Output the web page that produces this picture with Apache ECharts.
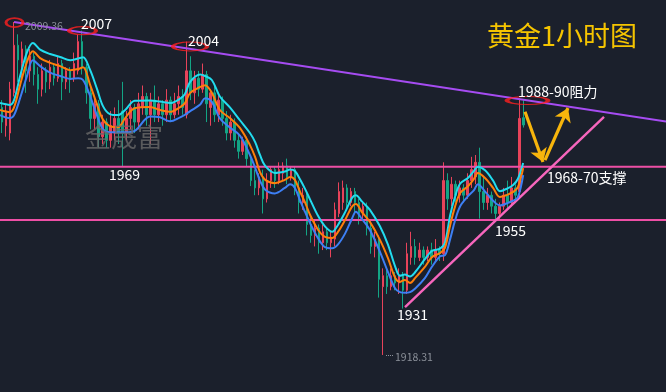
<!DOCTYPE html>
<html><head><meta charset="utf-8">
<script src="https://cdn.jsdelivr.net/npm/echarts@6/dist/echarts.min.js"></script>
<style>html,body{margin:0;padding:0;background:#1b202c}#c{width:666px;height:392px}</style>
</head><body><div id="c"></div>
<script>
// OHLC candles: [open, close, low, high]
const candles = [
[1986,1982,1979,1988],[1981,1985,1978,1987],[1979,1991,1977,1993],[1990,2003,1989,2009.36],
[2003,1999,1993,2006],[1998,2002,1994,2004],[2002,1996,1990,2003],[1996,2000,1993,2002],
[2000,1995,1992,2001],[1995,1991,1987,1997],[1991,1996,1989,1998],[1996,1993,1990,1997],
[1993,1997,1991,1999],[1997,1994,1992,1998],[1994,1998,1993,2000],[1998,1993,1988,1999],
[1993,1996,1991,1997],[1996,1994,1990,1997],[1994,1998,1993,2001],[1996,2004,1995,2006],
[2004,1997,1995,2007],[1997,1990,1987,1998],[1990,1983,1980,1992],[1983,1987,1980,1989],
[1987,1978,1975,1988],[1978,1982,1976,1984],[1982,1977,1975,1983],[1977,1981,1975,1985],
[1979,1983,1977,1986],[1983,1979,1976,1988],[1985,1979,1969.8,1993],[1979,1983,1977,1985],
[1983,1986,1980,1988],[1986,1982,1979,1987],[1982,1987,1980,1990],[1986,1989,1984,1992],
[1989,1984,1981,1990],[1984,1988,1976,1990],[1988,1984,1982,1992],[1984,1987,1982,1989],
[1987,1984,1981,1988],[1984,1988,1982,1991],[1988,1984,1982,1989],[1984,1987,1983,1990],
[1987,1989,1984,1992],[1989,1986,1984,1991],[1984,1996,1983,2004],[1996,1990,1988,2000],
[1990,1994,1987,1996],[1994,1991,1989,1996],[1991,1995,1990,1998],[1995,1987,1982,1996],
[1986,1990,1981,1991],[1990,1984,1982,1992],[1984,1988,1982,1990],[1988,1983,1981,1989],
[1983,1979,1977,1985],[1979,1982,1977,1984],[1982,1977,1975,1983],[1977,1974,1972,1979],
[1974,1977,1973,1978],[1977,1972,1970,1978],[1972,1966,1964.5,1973],[1966,1964,1962,1969],
[1964,1967,1962,1968],[1967,1961,1957,1969],[1961,1966,1960,1968],[1966,1969,1964,1970],
[1969,1966,1964,1970],[1966,1969,1965,1971],[1968,1970,1966,1971],[1970,1967,1965,1972],
[1967,1969,1966,1970],[1969,1964,1962,1970],[1964,1960,1957,1966],[1960,1962,1958,1964],
[1962,1954,1951,1963],[1954,1951,1949,1956],[1951,1953,1948,1955],[1953,1949,1946,1954],
[1949,1952,1947,1954],[1952,1949,1947,1953],[1949,1950.5,1945,1952],[1950,1958,1948,1960],
[1957,1963,1956,1965.5],[1960,1964,1958,1966],[1964,1960,1958,1965],[1960,1963,1959,1964],
[1963,1960,1957,1964],[1960,1957,1954,1961],[1957,1959,1955,1960],[1959,1953,1951,1960],
[1953,1948,1946,1955],[1948,1950,1945,1952],[1950,1939,1934,1951],[1937,1940,1918.31,1942],
[1940,1937,1935,1942],[1937,1940,1936,1942],[1940,1938,1936,1941],[1938,1940,1935,1942],
[1940,1936,1931,1941],[1936,1946,1935,1949],[1945,1948,1943,1952],[1948,1945,1943,1950],
[1945,1947,1944,1949],[1947,1945,1943,1948],[1945,1947,1944,1948],[1947,1945,1943,1949],
[1945,1947,1944,1950],[1947,1946,1944,1948],[1946,1966,1944,1971],[1966,1961,1958,1968],
[1961,1965,1959,1967],[1965,1962,1960,1966],[1962,1964,1960,1966],[1964,1962,1960,1965],
[1962,1966,1961,1968],[1966,1969,1964,1972.5],[1967,1971,1965,1973],[1971,1963,1955.6,1975],
[1963,1960,1958,1967],[1960,1962,1958,1964],[1962,1959,1957,1963],[1959,1957,1955,1961],
[1957,1959,1955.5,1960],[1959,1962,1958,1964],[1962,1960,1958,1966],[1960,1964,1959,1967],
[1964,1962,1960,1965],[1963,1983,1961,1988.5],[1983.2,1981.2,1980.5,1988]
];
const slotCount = 166;

// moving-average curves (bar index, price)
const maX = [-0.5,2.0,3.0,4.5,6.2,7.7,9.5,12,14.5,17,19,20.2,21.9,23.7,25.2,26.9,28.9,30.7,33.1,36.9,39.4,41.9,44.4,45.6,46.9,49.4,50.6,52.3,54.3,56.8,59.3,61.8,63.1,64.3,65.6,68.0,70.5,71.8,73.0,74.3,75.5,76.8,78.8,80.5,82.3,83.7,85.5,87.2,88.2,89.7,91.7,94.2,96.2,98.0,99.2,100.4,101.7,103.0,105.4,107.2,109.2,110.4,111.7,112.9,114.2,116.2,117.6,118.6,120.4,122.4,124.1,125.9,127.4,128.6,129.9];
const maClose = [1985.3,1984.7,1986.0,1992.1,1998.4,2001.4,1999.5,1998.2,1997.3,1996.2,1996.5,1997.0,1992.4,1986.7,1982.6,1980.9,1980.6,1983.1,1985.8,1986.1,1985.3,1984.8,1986.1,1987.2,1990.0,1991.6,1992.1,1990.0,1985.3,1983.1,1980.4,1975.7,1972.4,1968.3,1966.2,1965.3,1966.2,1967.0,1966.2,1962.9,1960.1,1956.6,1952.5,1950.6,1950.3,1951.9,1955.2,1958.8,1959.6,1957.4,1954.7,1949.8,1944.8,1939.4,1938.3,1938.8,1938.0,1939.4,1942.4,1945.1,1946.2,1947.6,1953.8,1958.8,1962.6,1964.5,1966.4,1968.1,1966.7,1964.0,1961.5,1962.1,1962.9,1964.2,1969.4];
const maHigh = [1987.2,1986.7,1988.0,1994.5,2001.0,2003.6,2001.8,2000.6,1999.8,1998.9,1999.4,1999.7,1996.4,1991.0,1986.3,1984.2,1983.9,1985.3,1987.8,1987.9,1987.6,1987.2,1988.4,1989.7,1993.0,1995.0,1994.6,1993.5,1989.0,1986.0,1982.5,1979.0,1976.5,1973.0,1970.0,1968.1,1968.5,1969.0,1968.6,1966.3,1963.8,1960.8,1956.3,1953.5,1952.0,1953.8,1957.3,1961.2,1962.0,1960.3,1958.0,1953.5,1948.5,1942.5,1940.0,1940.3,1939.8,1941.0,1944.5,1946.8,1947.4,1949.0,1956.5,1961.5,1965.2,1966.8,1968.6,1969.8,1968.8,1966.0,1963.1,1963.8,1964.8,1966.5,1970.8];
const maLow = [1983.9,1983.1,1983.9,1988.5,1994.5,1998.9,1997.3,1995.5,1994.6,1993.8,1994.0,1993.5,1989.3,1983.7,1980.0,1979.2,1979.2,1979.2,1979.6,1983.5,1983.3,1982.2,1983.3,1984.0,1985.0,1986.8,1988.5,1987.5,1983.0,1980.5,1978.3,1973.0,1969.5,1966.0,1963.5,1962.5,1964.0,1965.0,1964.0,1960.5,1957.5,1954.3,1950.2,1947.8,1947.5,1948.5,1951.5,1955.5,1957.5,1955.5,1952.5,1946.5,1941.0,1936.5,1935.5,1935.3,1935.5,1936.5,1939.3,1942.5,1945.3,1945.6,1950.0,1955.0,1959.0,1961.8,1963.3,1965.0,1963.0,1960.5,1959.2,1959.8,1960.5,1961.5,1967.5];

// annotations (bar index, price)
const resistanceLine = [[3.0,2009.36],[165.5,1982.15]];
const supportLevels = [1969.8,1955.2];
const trendLine = [[100.45,1931.4],[150.05,1983.4]];
const circleMarks = [[3.11,2009.2,17,9],[20.06,2007.0,27,8],[46.86,2002.66,34,9],[130.98,1987.9,41,8]];
const arrowPaths = [[[130.36,1984.8],[134.84,1971.1]],[[135.34,1971.6],[141.07,1985.85]]];
const priceMin = 1908.19, priceMax = 2015.38;

const zip = (xs, ys) => xs.map((x, i) => [x, ys[i]]);
const chart = echarts.init(document.getElementById('c'), null, {renderer: 'canvas'});
const FONT = "'Noto Sans CJK SC','Noto Sans',sans-serif";
const txt = (text, x, cy, size, fill) => ({type:'text', x, y: cy, z: 100,
  style:{text, fill, font: size + 'px ' + FONT, verticalAlign:'middle'}});

const series = [
  {type:'candlestick', xAxisIndex:0, yAxisIndex:0, data:candles, barWidth:2,
   itemStyle:{color:'#e8435a', color0:'#13a585', borderColor:'#e8435a', borderColor0:'#13a585', borderWidth:1}, z:2},
];
supportLevels.forEach(p => series.push({type:'line', xAxisIndex:1, data:[[-0.5,p],[165.5,p]], showSymbol:false,
  lineStyle:{color:'#ee4fa6', width:2}, z:3, silent:true}));
series.push({type:'line', xAxisIndex:1, data:resistanceLine, showSymbol:false, lineStyle:{color:'#a64cf2', width:2}, z:3});
series.push({type:'line', xAxisIndex:1, data:trendLine, showSymbol:false, lineStyle:{color:'#f766bd', width:2.4}, z:3});
[[maHigh,'#22dcef'],[maClose,'#ff7f0a'],[maLow,'#3d7ff5']].forEach(([arr,col]) => series.push({
  type:'line', xAxisIndex:1, data:zip(maX, arr), showSymbol:false, smooth:0.35,
  lineStyle:{color:col, width:2}, z:4}));
series.push({type:'scatter', xAxisIndex:1, data:circleMarks, symbol:'circle',
  symbolSize: v => [v[2], v[3]], itemStyle:{color:'rgba(0,0,0,0)', borderColor:'#ff1f1f', borderWidth:2.2}, z:6});
series.push({type:'lines', coordinateSystem:'cartesian2d', xAxisIndex:1, yAxisIndex:0,
  data: arrowPaths.map(c => ({coords:c})), symbol:['none','arrow'], symbolSize:13,
  lineStyle:{color:'#f7b50c', width:3.2, opacity:1, curveness:0}, z:7});

chart.setOption({
  backgroundColor:'#1b202c',
  animation:false,
  grid:{left:0, right:0, top:0, bottom:0},
  xAxis:[
    {type:'category', data:Array.from({length:slotCount}, (_, i) => String(i)), boundaryGap:true, show:false},
    {type:'value', min:-0.5, max:slotCount - 0.5, show:false}
  ],
  yAxis:{type:'value', min:priceMin, max:priceMax, show:false, scale:true},
  series,
  graphic:[
    txt('金晟富', 85, 137, 26, 'rgba(105,105,105,0.8)'),
    txt('2009.36', 25, 26, 10.5, '#8b9099'),
    txt('2007', 81, 24, 14, '#ffffff'),
    txt('2004', 188, 41, 14, '#ffffff'),
    txt('1969', 109, 175, 14, '#ffffff'),
    txt('1931', 397, 315, 14, '#ffffff'),
    txt('1955', 495, 231, 14, '#ffffff'),
    txt('1988-90阻力', 518, 92, 14, '#ffffff'),
    txt('1968-70支撑', 547, 178, 14, '#ffffff'),
    txt('1918.31', 395, 357, 10.5, '#8b9099'),
    txt('黄金1小时图', 487, 36, 27, '#f5c400'),
    {type:'line', z:100, shape:{x1:386, y1:355.5, x2:393, y2:355.5}, style:{stroke:'#8b9099', lineWidth:1, lineDash:[1,1]}}
  ]
});
</script></body></html>
